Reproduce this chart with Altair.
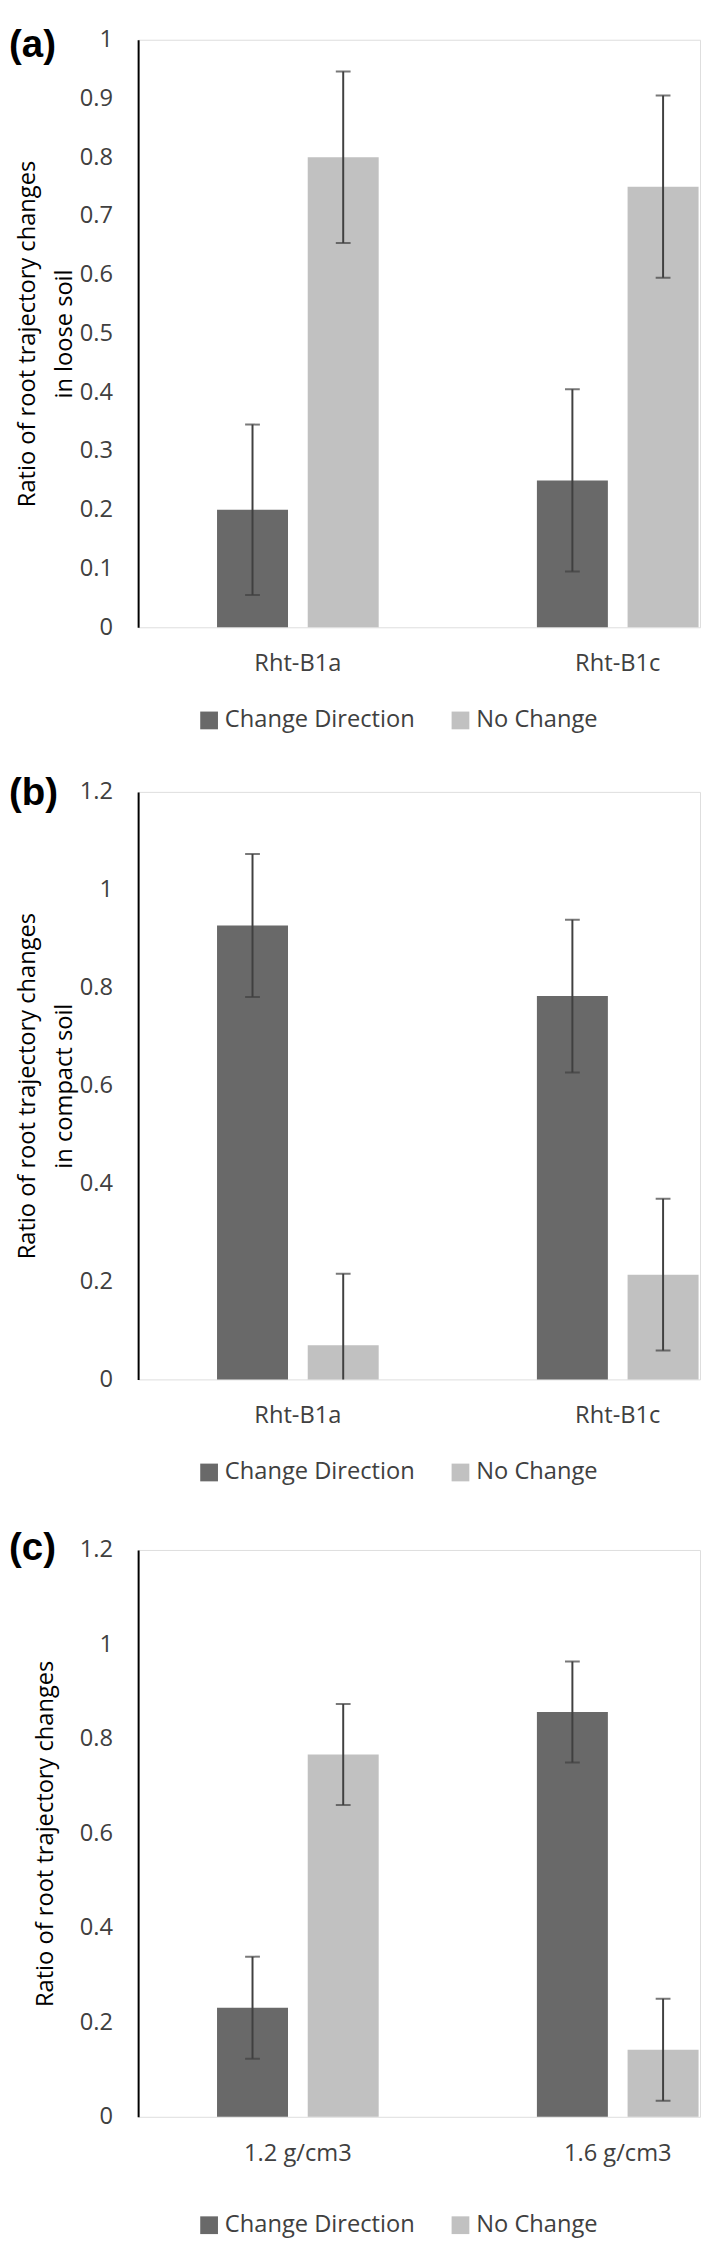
import altair as alt
import pandas as pd

# ---------------- data ----------------
series = ["Change Direction", "No Change"]
groups_ab = ["Rht-B1a", "Rht-B1c"]
groups_c = ["1.2 g/cm3", "1.6 g/cm3"]

change_a = [0.200, 0.250]
change_err_a = [0.145, 0.155]
nochange_a = [0.800, 0.750]
nochange_err_a = [0.146, 0.155]

change_b = [0.927, 0.783]
change_err_b = [0.146, 0.156]
nochange_b = [0.070, 0.214]
nochange_err_b = [0.146, 0.155]

change_c = [0.231, 0.857]
change_err_c = [0.108, 0.107]
nochange_c = [0.767, 0.142]
nochange_err_c = [0.107, 0.108]

ticks_a = [0, 0.1, 0.2, 0.3, 0.4, 0.5, 0.6, 0.7, 0.8, 0.9, 1]
ticks_bc = [0, 0.2, 0.4, 0.6, 0.8, 1, 1.2]

panel_labels = ["(a)", "(b)", "(c)"]
y_titles = [
    ["Ratio of root trajectory changes", "in loose soil"],
    ["Ratio of root trajectory changes", "in compact soil"],
    "Ratio of root trajectory changes",
]

DARK = "#696969"
LIGHT = "#c1c1c1"
ERR = "#404040"
TXT = "#404040"
FONT = "Open Sans"


def panel(groups, change, change_err, nochange, nochange_err, label, title,
          ymax, yticks, height, label_y, title_x, legend_y, top_ext,
          bottom_ext):
    rows = []
    for g, v, e in zip(groups, change, change_err):
        rows.append({"group": g, "series": series[0], "value": v,
                     "lo": v - e, "hi": v + e})
    for g, v, e in zip(groups, nochange, nochange_err):
        rows.append({"group": g, "series": series[1], "value": v,
                     "lo": v - e, "hi": v + e})
    df = pd.DataFrame(rows)

    xscale = alt.Scale(domain=groups, paddingInner=0.4946,
                       paddingOuter=0.1256, align=0.982)
    xaxis = alt.Axis(title=None, labelAngle=0, domain=False, ticks=False,
                     tickSize=0, grid=False, labelFontSize=24,
                     labelFont=FONT, labelColor=TXT, labelPadding=25)
    x = alt.X("group:N", sort=groups, scale=xscale, axis=xaxis)
    xo = alt.XOffset("series:N", sort=series,
                     scale=alt.Scale(domain=series, paddingInner=0.2174,
                                     paddingOuter=0))
    yscale = alt.Scale(domain=[0, ymax], nice=False, zero=True)
    yaxis = alt.Axis(values=yticks, format="~g", ticks=False, tickSize=0,
                     grid=False, domainColor="#000000", domainWidth=2,
                     labelFontSize=24, labelFont=FONT, labelColor=TXT,
                     labelPadding=26, title=title, titleFont=FONT,
                     titleFontSize=24, titleFontWeight="normal",
                     titleColor="#000000", titleLineHeight=37,
                     titleBaseline="top", titleAlign="center",
                     titleAngle=270, titleX=title_x)

    color = alt.Color(
        "series:N", sort=series,
        scale=alt.Scale(domain=series, range=[DARK, LIGHT]),
        legend=alt.Legend(title=None, orient="none", legendX=60,
                          legendY=legend_y, direction="horizontal",
                          symbolType="square", symbolSize=324,
                          symbolStrokeWidth=0, labelFontSize=24,
                          labelFont=FONT, labelColor=TXT, labelOffset=4,
                          labelLimit=400, columnPadding=34),
    )

    base = alt.Chart(df)
    bars = base.mark_bar().encode(
        x=x, xOffset=xo, y=alt.Y("value:Q", scale=yscale, axis=yaxis),
        color=color)
    rules = base.mark_rule(color=ERR, strokeWidth=2, clip=True).encode(
        x=x, xOffset=xo, y=alt.Y("lo:Q", scale=yscale, axis=yaxis),
        y2="hi:Q")
    caps_hi = base.mark_tick(color=ERR, thickness=2, size=15,
                             clip=True).encode(
        x=x, xOffset=xo, y=alt.Y("hi:Q", scale=yscale, axis=yaxis))
    caps_lo = base.mark_tick(color=ERR, thickness=2, size=15,
                             clip=True).encode(
        x=x, xOffset=xo, y=alt.Y("lo:Q", scale=yscale, axis=yaxis))
    lab_data = alt.Chart(pd.DataFrame({"t": [label]}))
    lab = lab_data.mark_text(
        align="left", baseline="alphabetic", fontSize=39, fontWeight="bold",
        font="Liberation Sans", color="#000000").encode(
        text="t:N", x=alt.value(-131), y=alt.value(label_y))
    # invisible spacer that fixes the vertical extent of the panel
    spacer = lab_data.mark_rule(opacity=0, strokeWidth=1).encode(
        x=alt.value(0), y=alt.value(-top_ext), y2=alt.value(bottom_ext))
    return alt.layer(bars, rules, caps_hi, caps_lo, lab, spacer).properties(
        width=570, height=height)


pa = panel(groups_ab, change_a, change_err_a, nochange_a, nochange_err_a,
           panel_labels[0], y_titles[0], 1, ticks_a, 596, 17, -124, 678.5,
           15, 742)
pb = panel(groups_ab, change_b, change_err_b, nochange_b, nochange_err_b,
           panel_labels[1], y_titles[1], 1.2, ticks_bc, 596, 13, -124, 678.4,
           19, 745)
pc = panel(groups_c, change_c, change_err_c, nochange_c, nochange_err_c,
           panel_labels[2], y_titles[2], 1.2, ticks_bc, 575, 10, -106, 673,
           22, 698)

chart = alt.vconcat(pa, pb, pc, spacing=0).resolve_scale(
    color="independent").resolve_legend(color="independent").properties(
    padding=0).configure_view(strokeWidth=0).configure(font=FONT)

chart.save("out.html", embed_options={"renderer": "svg", "actions": False})
